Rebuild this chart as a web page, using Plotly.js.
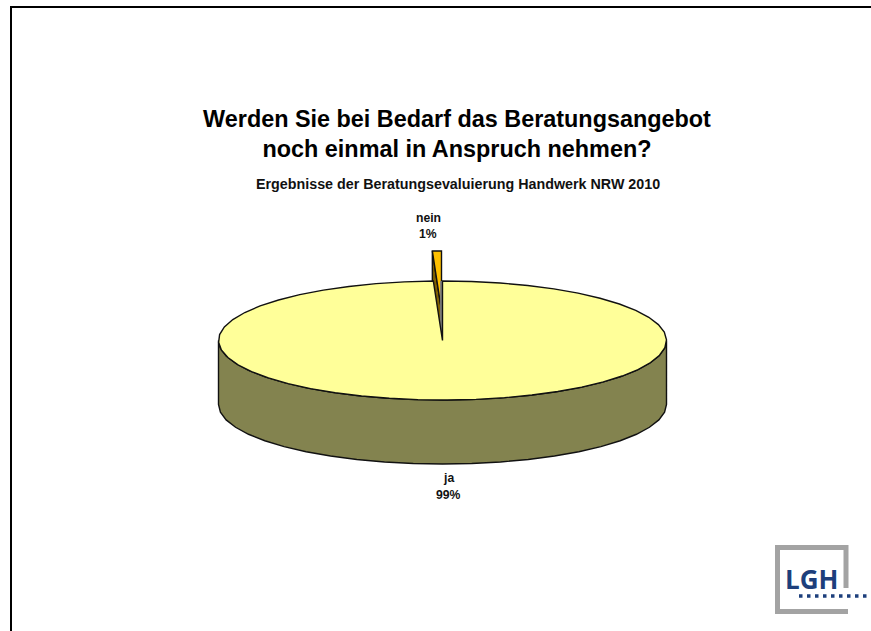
<!DOCTYPE html>
<html><head><meta charset="utf-8">
<script src="https://cdn.plot.ly/plotly-3.0.1.min.js"></script>
<style>html,body{margin:0;padding:0;background:#fff}#c{width:871px;height:631px}</style>
</head><body><div id="c"></div>
<script>
const categories = ["ja", "nein"];
const values = [99.35, 0.65];
const topColors = ["#ffff99", "#ffc000"];
const wallColors = ["#83834f", "#7f6000"];
const titleText = "Werden Sie bei Bedarf das Beratungsangebot<br>noch einmal in Anspruch nehmen?";
const subtitleText = "Ergebnisse der Beratungsevaluierung Handwerk NRW 2010";

const font = "Liberation Sans, Arial, sans-serif";
const W = 871, H = 631;
const cx = 442.5, cy = 340.5, rx = 224, ry = 59.5, depth = 64;
const explodeY = -30, explodeX = -1;
const total = values.reduce((a, b) => a + b, 0);
const jaSweep = values[0] / total * 2 * Math.PI;   // clockwise from 12 o'clock
const rim = (t, dx = 0, dy = 0) => [cx + dx + rx * Math.sin(t), cy + dy - ry * Math.cos(t)];
function arc(from, to, dx = 0, dy = 0) {
  const n = Math.max(1, Math.ceil(Math.abs(to - from) / (7.5 * Math.PI / 180)));
  const pts = [];
  for (let i = 0; i <= n; i++) pts.push(rim(from + (to - from) * i / n, dx, dy));
  return pts;
}
function poly(pts, fill, line, lw) {
  return {
    type: "scatter", mode: "lines", x: pts.map(p => p[0]), y: pts.map(p => p[1]),
    fill: "toself", fillcolor: fill, line: {color: line, width: lw, shape: "linear"},
    hoverinfo: "skip", showlegend: false
  };
}
const outline = "#111111";
const front = arc(Math.PI / 2, 3 * Math.PI / 2);
const frontBack = front.slice().reverse().map(p => [p[0], p[1] + depth]);
const wall = poly(front.concat(frontBack, [front[0]]), wallColors[0], outline, 1.4);
const jaArc = arc(0, jaSweep);
const jaTop = poly([[cx, cy]].concat(jaArc, [[cx, cy]]), topColors[0], outline, 1.4);
const neinArc = arc(jaSweep, 2 * Math.PI, explodeX, explodeY);
const neinApex = [cx + explodeX, cy + explodeY];
const neinEdge = neinArc[0];
const neinWall = poly([neinEdge, neinApex, [neinApex[0], neinApex[1] + depth], [neinEdge[0], neinEdge[1] + depth], neinEdge], wallColors[1], outline, 1.4);
const neinTop = poly([neinApex].concat(neinArc, [neinApex]), topColors[1], outline, 1.4);
const cutWall = {
  type: "scatter", mode: "lines",
  x: [cx - 1.2, rim(0)[0] - 1.2], y: [cy, rim(0)[1]],
  line: {color: "#808080", width: 2.4}, hoverinfo: "skip", showlegend: false
};

const pct = v => Math.round(v / total * 100) + "%";
const label = (text, x, y) => ({
  text, x, y, xref: "x", yref: "y", showarrow: false, xanchor: "center", yanchor: "middle",
  font: {family: font, size: 12.2, color: "#111111"}
});
const grey = "#a3a3a3";
const layout = {
  width: W, height: H, margin: {l: 0, r: 0, t: 0, b: 0},
  paper_bgcolor: "#ffffff", plot_bgcolor: "#ffffff", showlegend: false,
  xaxis: {range: [0, W], visible: false, fixedrange: true},
  yaxis: {range: [H, 0], visible: false, fixedrange: true},
  title: {
    text: "<b>" + titleText + "</b>", x: 457 / W, xanchor: "center", xref: "paper",
    y: 1 - 126.5 / H, yanchor: "top", yref: "paper",
    font: {family: font, size: 23.4, color: "#000000"}
  },
  annotations: [
    {text: "<b>" + subtitleText + "</b>", x: 458, y: 184, xref: "x", yref: "y", showarrow: false,
     font: {family: font, size: 14.3, color: "#111111"}},
    label("<b>" + categories[1] + "</b>", 428, 218),
    label("<b>" + pct(values[1]) + "</b>", 428, 234),
    label("<b>" + categories[0] + "</b>", 448, 478),
    label("<b>" + pct(values[0]) + "</b>", 448, 495),
    {text: "LGH", x: 811.5, y: 579, xref: "x", yref: "y", showarrow: false,
     font: {family: "Open Sans, sans-serif", size: 26, color: "#1d3f7c", weight: 700}}
  ],
  shapes: [
    {type: "path", path: "M11,631 L11,7 L871,7", line: {color: "#000000", width: 2}},
    {type: "path", path: "M846,588 L846,547.5 L777.5,547.5 L777.5,611.5 L848,611.5", line: {color: grey, width: 5}},
    {type: "line", x0: 799, x1: 871, y0: 596, y1: 596, line: {color: "#1d3f7c", width: 3.5, dash: "3.5px,4.5px"}}
  ]
};
Plotly.newPlot("c", [wall, neinWall, neinTop, cutWall, jaTop], layout, {displayModeBar: false, staticPlot: true});
</script></body></html>
